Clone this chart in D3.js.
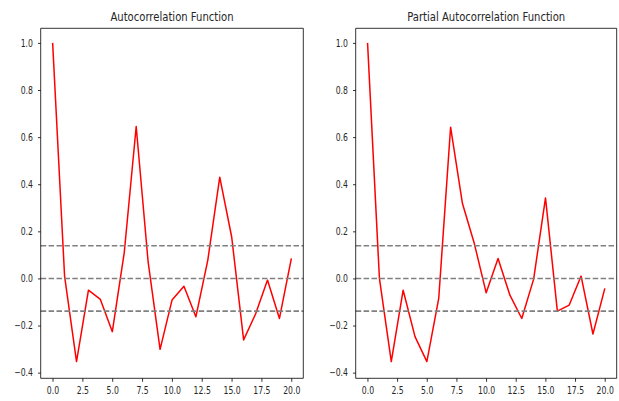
<!DOCTYPE html>
<html>
<head>
<meta charset="utf-8">
<script src="https://cdn.jsdelivr.net/npm/d3@7"></script>
<style>
  html, body { margin: 0; padding: 0; background: #fff; }
  svg { display: block; }
  text { font-family: "DejaVu Sans", sans-serif; fill: #262626; }
</style>
</head>
<body>
<svg id="chart" width="619" height="401"></svg>
<script>
// Lags 0..20
const lags = d3.range(0, 21);

// Autocorrelation values per lag
const acfValues = [1.0, 0.01, -0.353, -0.05, -0.089, -0.226, 0.11, 0.645, 0.07, -0.301,
  -0.092, -0.033, -0.163, 0.078, 0.43, 0.176, -0.261, -0.151, -0.007, -0.17, 0.085];

// Partial autocorrelation values per lag
const pacfValues = [1.0, 0.0, -0.353, -0.05, -0.247, -0.353, -0.085, 0.642, 0.318, 0.148,
  -0.061, 0.085, -0.071, -0.17, -0.003, 0.342, -0.139, -0.113, 0.01, -0.236, -0.042];

// Confidence band: ±1.96/sqrt(N), N = 200 observations
const nObs = 200;
const bandLines = [-1.96 / Math.sqrt(nObs), 0, 1.96 / Math.sqrt(nObs)];

const titles = ["Autocorrelation Function", "Partial Autocorrelation Function"];
const xTicks = [0, 2.5, 5, 7.5, 10, 12.5, 15, 17.5, 20];
const yTicks = [-0.4, -0.2, 0.0, 0.2, 0.4, 0.6, 0.8, 1.0];

// The figure is laid out on an 800px-wide canvas and squeezed into 619px.
const SX = 619 / 800;
const svg = d3.select("#chart");
const root = svg.append("g").attr("transform", `scale(${SX},1)`);

const plotTop = 28.3, plotBottom = 378.3;
const panels = [
  { title: titles[0], values: acfValues, x0: 52.6, x1: 392.0 },
  { title: titles[1], values: pacfValues, x0: 459.7, x1: 797.0 }
];

const fmt = d3.format(".1f");

panels.forEach(p => {
  const x = d3.scaleLinear().domain([-1, 21]).range([p.x0, p.x1]);
  const y = d3.scaleLinear().domain([-0.424, 1.062]).range([plotBottom, plotTop]);
  const g = root.append("g");

  // Series line
  const line = d3.line().x((d, i) => x(lags[i])).y(d => y(d));
  g.append("path")
    .datum(p.values)
    .attr("d", line)
    .attr("fill", "none")
    .attr("stroke", "#ff0000")
    .attr("stroke-width", 1.5)
    .attr("stroke-linejoin", "round")
    .attr("vector-effect", "non-scaling-stroke");

  // Reference lines at zero and the confidence bounds
  g.selectAll("line.band")
    .data(bandLines)
    .join("line")
    .attr("class", "band")
    .attr("x1", p.x0).attr("x2", p.x1)
    .attr("y1", d => y(d)).attr("y2", d => y(d))
    .attr("stroke", "#808080")
    .attr("stroke-width", 1.6)
    .attr("stroke-dasharray", "5.5,2.4")
    .attr("vector-effect", "non-scaling-stroke");

  // Axes
  const xAxis = d3.axisBottom(x).tickValues(xTicks).tickSize(3.5).tickPadding(5)
    .tickFormat(fmt);
  const yAxis = d3.axisLeft(y).tickValues(yTicks).tickSize(3.5).tickPadding(6.5)
    .tickFormat(fmt);

  const gx = g.append("g").attr("transform", `translate(0,${plotBottom})`).call(xAxis);
  const gy = g.append("g").attr("transform", `translate(${p.x0},0)`).call(yAxis);
  [gx, gy].forEach(a => {
    a.select(".domain").remove();
    a.selectAll(".tick line").attr("stroke", "#000").attr("stroke-width", 0.8)
      .attr("vector-effect", "non-scaling-stroke");
    a.selectAll(".tick text").attr("font-size", 10).attr("font-family", "DejaVu Sans").attr("fill", "#262626");
  });

  // Frame
  g.append("rect")
    .attr("x", p.x0).attr("y", plotTop)
    .attr("width", p.x1 - p.x0).attr("height", plotBottom - plotTop)
    .attr("fill", "none")
    .attr("stroke", "#000")
    .attr("stroke-width", 0.8)
    .attr("vector-effect", "non-scaling-stroke");

  // Title
  g.append("text")
    .attr("x", (p.x0 + p.x1) / 2)
    .attr("y", 21.5)
    .attr("text-anchor", "middle")
    .attr("font-size", 13)
    .text(p.title);
});
</script>
</body>
</html>
